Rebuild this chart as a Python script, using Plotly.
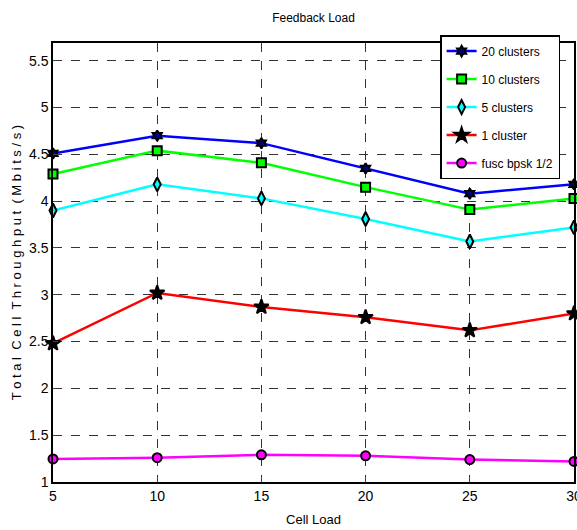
import plotly.graph_objects as go

cell_load = [5, 10, 15, 20, 25, 30]
s20 = [4.51, 4.70, 4.62, 4.35, 4.08, 4.18]
s10 = [4.29, 4.54, 4.41, 4.15, 3.91, 4.03]
s5 = [3.90, 4.18, 4.03, 3.81, 3.57, 3.72]
s1 = [2.48, 3.02, 2.87, 2.76, 2.62, 2.80]
fusc = [1.246, 1.26, 1.29, 1.28, 1.24, 1.22]

names = ["20 clusters", "10 clusters", "5 clusters", "1 cluster", "fusc bpsk 1/2"]
series = [s20, s10, s5, s1, fusc]
colors = ["#0000ff", "#00ff00", "#00ffff", "#ff0000", "#ff00ff"]
symbols = ["hexagram", "square", "diamond-tall", "star", "circle"]
mcolors = ["#00008b", "#00ff00", "#00ffff", "#000000", "#ff00ff"]
msizes = [8, 9, 10, 11, 9]

fig = go.Figure()
for i, (n, s) in enumerate(zip(names, series)):
    fig.add_trace(go.Scatter(
        x=cell_load, y=s, name=n, mode="lines+markers", legendgroup=n,
        line=dict(color=colors[i], width=2.5),
        marker=dict(symbol=symbols[i], size=msizes[i], color=mcolors[i],
                    line=dict(color="black", width=2)),
        cliponaxis=False,
    ))

font = "Liberation Sans, Arial, sans-serif"
fig.update_layout(
    width=577, height=530,
    margin=dict(l=53, r=3, t=43, b=48, autoexpand=False),
    paper_bgcolor="white", plot_bgcolor="white",
    font=dict(family=font, size=13, color="black"),
    title=dict(text="Feedback Load", x=(53 + 574) / 2 / 577, xanchor="center",
               y=1 - 18 / 530, yanchor="middle", font=dict(size=12)),
    showlegend=True,
    legend=dict(x=0.743, y=1.018, xanchor="left", yanchor="top",
                bgcolor="white", bordercolor="black", borderwidth=1.5,
                font=dict(size=12), tracegroupgap=9, traceorder="grouped",
                itemwidth=30),
)
fig.update_xaxes(
    range=[5, 30], tickvals=cell_load, ticks="inside", ticklen=5,
    ticklabeloverflow="allow", tickfont=dict(size=14),
    showline=True, linecolor="black", linewidth=1.5, mirror=True,
    showgrid=True, gridcolor="#333333", griddash="dash", gridwidth=1,
    zeroline=False, automargin=False,
    title=dict(text="Cell Load", standoff=12, font=dict(size=13)),
)
fig.update_yaxes(
    range=[1, 5.69], tickvals=[1, 1.5, 2, 2.5, 3, 3.5, 4, 4.5, 5, 5.5],
    ticktext=["1", "1.5", "2", "2.5", "3", "3.5", "4", "4.5", "5", "5.5"],
    ticks="inside", ticklen=5, ticklabeloverflow="allow", tickfont=dict(size=14),
    showline=True, linecolor="black", linewidth=1.5, mirror=True,
    showgrid=True, gridcolor="#333333", griddash="dash", gridwidth=1,
    zeroline=False, automargin=False,
    title=dict(text="T o t a l  C e l l  T h r o u g h p u t  ( M b i t s / s )",
               standoff=4, font=dict(size=13)),
)
fig.write_html("out.html", config={"displayModeBar": False},
               post_script="document.body.style.margin='0';")
